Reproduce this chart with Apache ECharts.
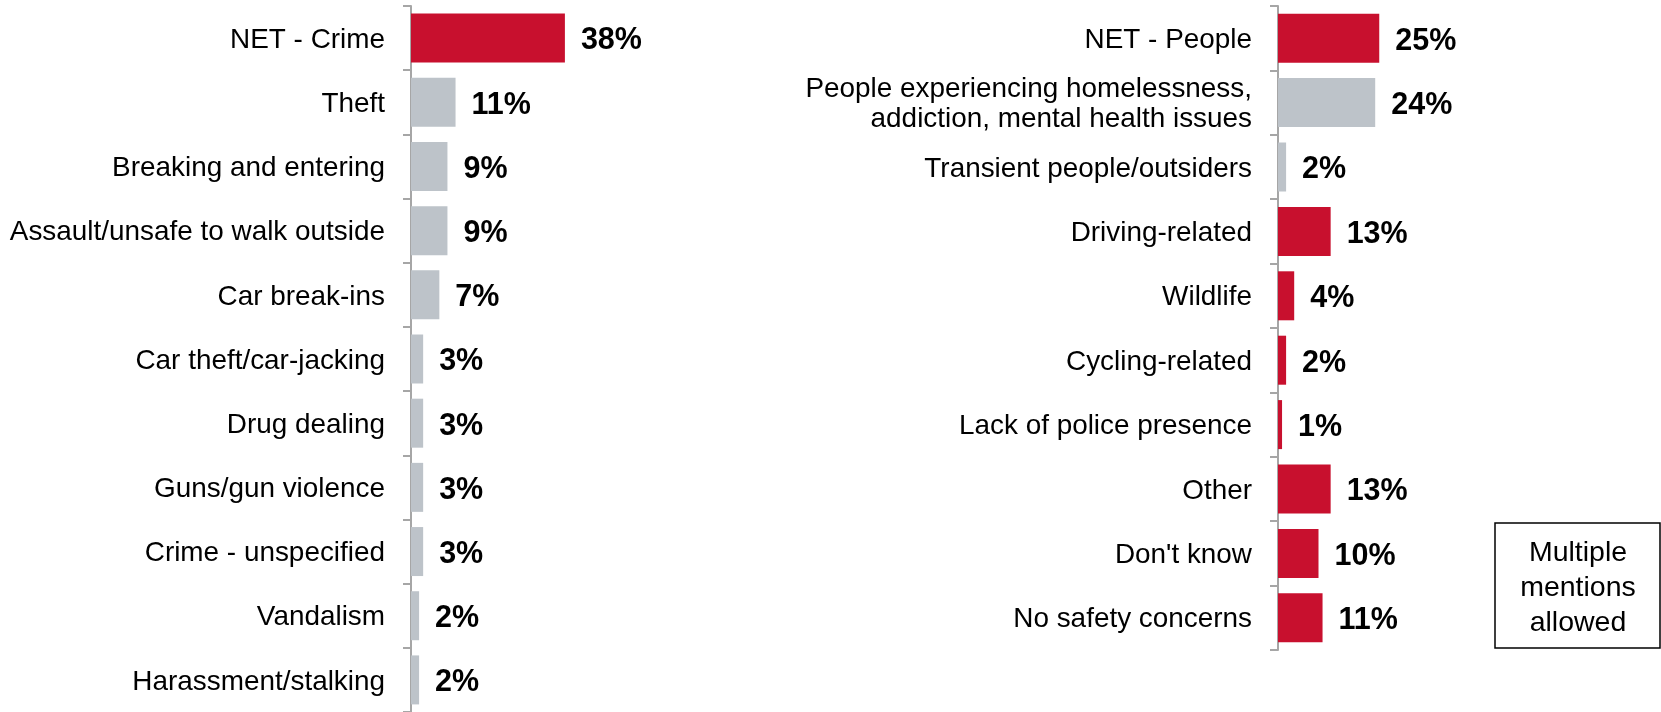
<!DOCTYPE html>
<html>
<head>
<meta charset="utf-8">
<script src="https://cdn.jsdelivr.net/npm/echarts@6/dist/echarts.min.js"></script>
<style>
  html, body { margin: 0; padding: 0; background: #fff; }
  #chart { width: 1661px; height: 712px; }
</style>
</head>
<body>
<div id="chart"></div>
<script>
// left panel: crime
const crimeCats = [
  "NET - Crime",
  "Theft",
  "Breaking and entering",
  "Assault/unsafe to walk outside",
  "Car break-ins",
  "Car theft/car-jacking",
  "Drug dealing",
  "Guns/gun violence",
  "Crime - unspecified",
  "Vandalism",
  "Harassment/stalking",
];
const crimeVals = [38, 11, 9, 9, 7, 3, 3, 3, 3, 2, 2];

// right panel: people / other
const otherCats = [
  "NET - People",
  "People experiencing homelessness,\naddiction, mental health issues",
  "Transient people/outsiders",
  "Driving-related",
  "Wildlife",
  "Cycling-related",
  "Lack of police presence",
  "Other",
  "Don't know",
  "No safety concerns",
];
const otherVals = [25, 24, 2, 13, 4, 2, 1, 13, 10, 11];

// sub-items drawn grey, the rest red
const greyCats = [
  "Theft", "Breaking and entering", "Assault/unsafe to walk outside",
  "Car break-ins", "Car theft/car-jacking", "Drug dealing",
  "Guns/gun violence", "Crime - unspecified", "Vandalism",
  "Harassment/stalking",
  "People experiencing homelessness,\naddiction, mental health issues",
  "Transient people/outsiders",
];

const RED = "#C8102E";
const GREY = "#BDC3C9";
const FONT = "'Liberation Sans', Arial, sans-serif";

const chart = echarts.init(document.getElementById("chart"));

function xAx(idx) {
  return {
    type: "value",
    gridIndex: idx,
    min: 0,
    max: 40,
    show: false,
  };
}

function yAx(idx, cats) {
  return {
    type: "category",
    gridIndex: idx,
    data: cats,
    inverse: true,
    axisLine: { show: true, lineStyle: { color: "#A6A6A6", width: 2 } },
    axisTick: { show: true, length: 8, lineStyle: { color: "#A6A6A6", width: 2 } },
    axisLabel: {
      margin: 26,
      color: "#000",
      fontFamily: FONT,
      fontSize: 27.9,
      align: "right",
      // wrap each line so the text sits a couple px lower, like the original
      formatter: (v) => v.split("\n").map((s) => "{a|" + s + "}").join("\n"),
      rich: {
        a: {
          color: "#000",
          fontFamily: FONT,
          fontSize: 27.9,
          lineHeight: 30,
          padding: [4, 0, 0, 0],
        },
      },
    },
  };
}

function barSeries(idx, vals) {
  return {
    type: "bar",
    xAxisIndex: idx,
    yAxisIndex: idx,
    data: vals,
    barWidth: 49,
    itemStyle: {
      color: (p) => (greyCats.includes(p.name) ? GREY : RED),
    },
    label: {
      show: true,
      position: "right",
      distance: 16,
      offset: [0, 3],
      formatter: "{c}%",
      color: "#000",
      fontFamily: FONT,
      fontWeight: "bold",
      fontSize: 30.5,
    },
  };
}

const option = {
  animation: false,
  grid: [
    { left: 411, top: 6, width: 162, height: 708.4 },
    { left: 1278, top: 6, width: 162, height: 644 },
  ],
  xAxis: [xAx(0), xAx(1)],
  yAxis: [yAx(0, crimeCats), yAx(1, otherCats)],
  series: [barSeries(0, crimeVals), barSeries(1, otherVals)],
  graphic: [
    {
      type: "rect",
      shape: { x: 1495, y: 523, width: 165, height: 125 },
      style: { fill: "#fff", stroke: "#000", lineWidth: 1.5 },
    },
    {
      type: "text",
      x: 1578,
      y: 588,
      style: {
        text: "Multiple\nmentions\nallowed",
        fill: "#000",
        font: "28.5px " + FONT,
        lineHeight: 35,
        align: "center",
        verticalAlign: "middle",
      },
    },
  ],
};

chart.setOption(option);
</script>
</body>
</html>
